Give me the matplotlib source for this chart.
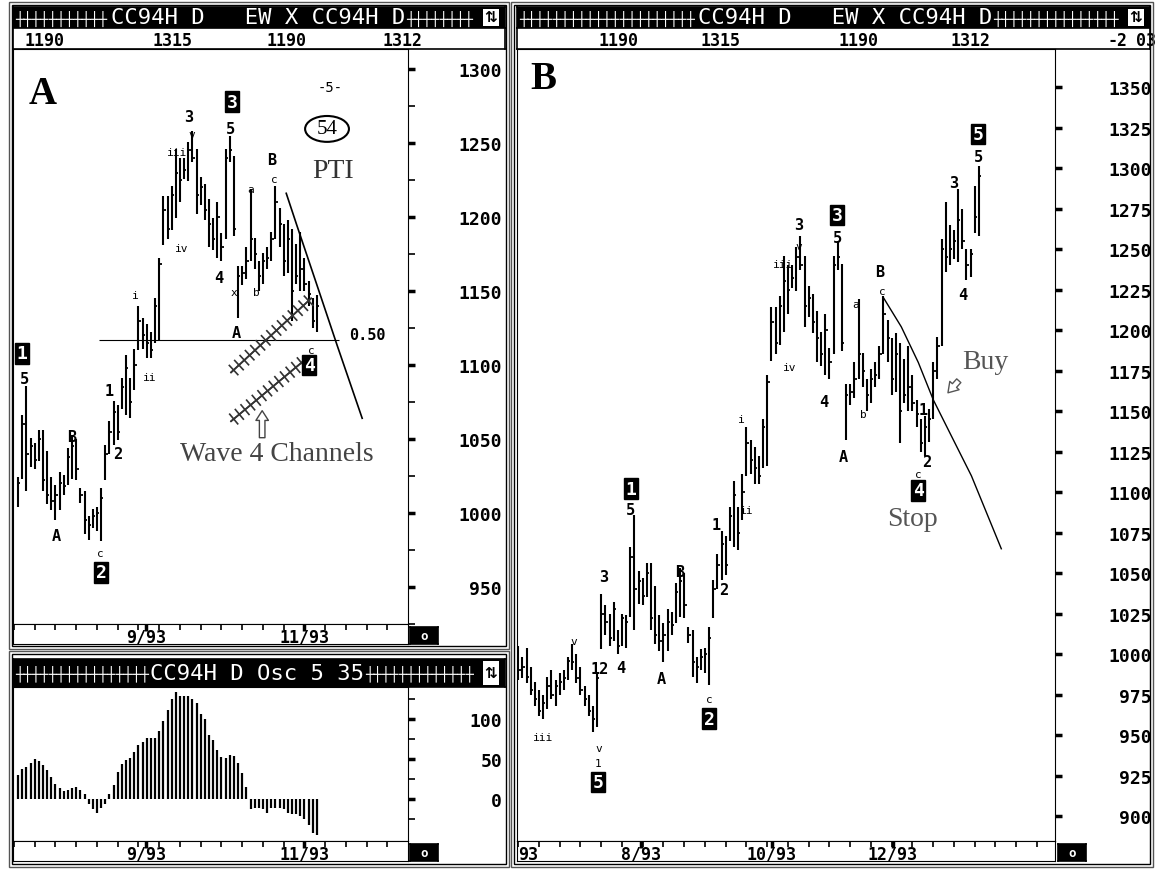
import numpy as np
import matplotlib.pyplot as plt
import matplotlib.patheffects as pe
from matplotlib.patches import Rectangle, Ellipse

# daily bars, index = trading day on panel B (panel A shows a_first..a_last)
high = [1005, 998, 1004, 992, 983, 978, 975, 986, 990, 984, 988, 990, 998, 1006, 1000, 992,
        980, 975, 968, 988, 1037, 1030, 1025, 1032, 1015, 1025, 1024, 1066, 1086, 1051, 1047, 1056,
        1056, 1042, 1024, 1019, 1028, 1026, 1044, 1053, 1050, 1017, 1015, 998, 1003, 1004, 1017, 1046,
        1062, 1076, 1073, 1091, 1107, 1091, 1111, 1140, 1132, 1128, 1122, 1145, 1172, 1214, 1214, 1221,
        1246, 1240, 1240, 1251, 1258, 1246, 1227, 1222, 1212, 1199, 1210, 1189, 1246, 1255, 1241, 1167,
        1167, 1180, 1219, 1186, 1170, 1176, 1180, 1190, 1221, 1206, 1195, 1198, 1192, 1182, 1190, 1172,
        1157, 1145, 1147, 1151, 1180, 1196, 1256, 1279, 1265, 1262, 1287, 1275, 1250, 1250, 1289, 1301]
low = [984, 985, 982, 975, 968, 962, 960, 966, 972, 968, 975, 978, 984, 990, 982, 975,
       968, 962, 952, 955, 1003, 1012, 1005, 1008, 1000, 1005, 1004, 1023, 1015, 1031, 1030, 1035,
       1015, 1006, 1002, 995, 1002, 1012, 1019, 1023, 1022, 1007, 986, 982, 990, 988, 981, 1022,
       1040, 1046, 1049, 1070, 1066, 1064, 1083, 1110, 1111, 1105, 1105, 1115, 1116, 1181, 1185, 1191,
       1199, 1210, 1226, 1224, 1237, 1202, 1208, 1198, 1180, 1178, 1172, 1170, 1185, 1237, 1187, 1132,
       1154, 1158, 1170, 1165, 1150, 1155, 1165, 1170, 1185, 1180, 1160, 1162, 1130, 1155, 1150, 1150,
       1140, 1125, 1122, 1131, 1145, 1170, 1190, 1236, 1240, 1244, 1242, 1250, 1231, 1233, 1260, 1258]
close = [990, 992, 986, 978, 972, 965, 970, 980, 975, 980, 983, 985, 996, 995, 985, 978,
         972, 965, 960, 985, 1025, 1020, 1010, 1028, 1005, 1022, 1020, 1060, 1040, 1045, 1036, 1050,
         1022, 1012, 1008, 1012, 1020, 1018, 1038, 1045, 1030, 1012, 995, 992, 998, 1000, 1010, 1040,
         1055, 1068, 1055, 1085, 1098, 1075, 1100, 1130, 1120, 1115, 1110, 1140, 1168, 1205, 1192, 1215,
         1230, 1225, 1232, 1245, 1240, 1215, 1220, 1205, 1195, 1185, 1200, 1180, 1240, 1245, 1192, 1160,
         1162, 1170, 1185, 1175, 1160, 1170, 1172, 1185, 1210, 1195, 1170, 1185, 1150, 1160, 1165, 1155,
         1148, 1130, 1140, 1145, 1175, 1190, 1250, 1245, 1250, 1255, 1268, 1255, 1240, 1247, 1270, 1295]
a_first, a_last = 26, 98

# Osc 5/35 for bars a_first..a_last
osc = [30, 38, 40, 45, 50, 48, 42, 36, 28, 19, 14, 10, 11, 14, 15, 11, 6, -6, -13, -17,
       -11, -6, 6, 17, 34, 44, 49, 51, 59, 68, 71, 76, 76, 76, 85, 97, 111, 125, 134, 129,
       129, 129, 125, 120, 106, 100, 80, 74, 61, 53, 51, 55, 54, 45, 32, 15, -13, -11, -11, -13,
       -17, -11, -11, -11, -13, -17, -19, -19, -21, -25, -32, -42, -45]

a_major = [950, 1000, 1050, 1100, 1150, 1200, 1250, 1300]
a_minor = [925, 975, 1025, 1075, 1125, 1175, 1225, 1275]
b_ticks = [900, 925, 950, 975, 1000, 1025, 1050, 1075, 1100, 1125, 1150, 1175, 1200,
           1225, 1250, 1275, 1300, 1325, 1350]
osc_major = [0, 50, 100]
osc_minor = [-25, 25, 75, 125]

a_dates = [56.8, 94.9]
a_date_labels = ['9/93', '11/93']
b_dates = [29.6, 61.1, 90.3]
b_date_labels = ['8/93', '10/93', '12/93']

a_header = ['1190', '1315', '1190', '1312']
a_header_x = [44, 172, 286, 403]
b_header = ['1190', '1315', '1190', '1312', '-2', '03']
b_header_x = [619, 721, 859, 971, 1118, 1146]

# wave labels: (bar, price, text, kind)
a_labels = [(27.0, 1108, '1', 'box'), (27.4, 1091, '5', 'num'), (39.0, 1052, 'B', 'num'),
            (35.2, 985, 'A', 'num'), (45.8, 973, 'c', 'small'), (46.0, 960, '2', 'box'),
            (48.0, 1083, '1', 'num'), (49.9, 1040, '2', 'num'), (54.2, 1147, 'i', 'small'),
            (57.8, 1092, 'ii', 'small'), (64.3, 1244, 'iii', 'small'), (67.2, 1268, '3', 'num'),
            (67.9, 1256, 'v', 'small'), (65.5, 1179, 'iv', 'small'), (77.6, 1278, '3', 'box'),
            (77.1, 1260, '5', 'num'), (74.4, 1159, '4', 'num'), (81.9, 1219, 'a', 'small'),
            (83.3, 1149, 'b', 'small'), (78.0, 1149, 'x', 'small'), (78.5, 1122, 'A', 'num'),
            (87.2, 1239, 'B', 'num'), (87.7, 1226, 'c', 'small'), (96.6, 1110, 'c', 'small'),
            (96.1, 1100, '4', 'box')]
b_labels = [(6.0, 949, 'iii', 'small'), (13.5, 1008, 'v', 'small'), (19.3, 942, 'v', 'small'),
            (19.3, 933, '1', 'small'), (19.3, 921, '5', 'box'), (20.7, 1048, '3', 'num'),
            (19.6, 991, '12', 'num'), (24.8, 992, '4', 'num'),
            (27.2, 1102, '1', 'box'), (27.0, 1089, '5', 'num'), (34.5, 985, 'A', 'num'),
            (38.8, 1051, 'B', 'num'), (46.0, 972, 'c', 'small'), (46.0, 960, '2', 'box'),
            (47.7, 1080, '1', 'num'), (49.4, 1040, '2', 'num'), (53.7, 1145, 'i', 'small'),
            (55.0, 1089, 'ii', 'small'), (63.9, 1241, 'iii', 'small'), (65.3, 1177, 'iv', 'small'),
            (67.5, 1265, '3', 'num'), (67.5, 1252, 'v', 'small'), (76.9, 1271, '3', 'box'),
            (76.9, 1257, '5', 'num'), (73.7, 1156, '4', 'num'), (78.3, 1122, 'A', 'num'),
            (81.4, 1216, 'a', 'small'), (83.1, 1148, 'b', 'small'), (87.0, 1236, 'B', 'num'),
            (87.7, 1224, 'c', 'small'), (97.6, 1151, '1', 'num'), (98.3, 1119, '2', 'num'),
            (96.4, 1111, 'c', 'small'), (96.4, 1101, '4', 'box'), (105.0, 1291, '3', 'num'),
            (107.2, 1222, '4', 'num'), (110.8, 1321, '5', 'box'), (110.8, 1307, '5', 'num')]

# hand drawn lines
a_trend_x = [90.6, 93.2, 98.0, 102.9, 108.9]
a_trend_y = [1216, 1194, 1154, 1113, 1064]
b_trend_x = [88.0, 92.3, 96.4, 100.0, 104.3, 109.2, 116.4]
b_trend_y = [1220, 1202, 1180, 1157, 1135, 1110, 1065]
chan_up_x, chan_up_y = [77.3, 96.6], [1095, 1145]
chan_lo_x, chan_lo_y = [77.3, 94.9], [1062, 1103]

MONO = 'DejaVu Sans Mono'
SERIF = 'Liberation Serif'
W, H = 1155, 870
fig = plt.figure(figsize=(W / 100, H / 100), dpi=100)


def px_axes(x0, y0, x1, y1):
    return fig.add_axes([x0 / W, 1 - y1 / H, (x1 - x0) / W, (y1 - y0) / H])


def blank(ax):
    ax.set_xticks([])
    ax.set_yticks([])
    for s in ax.spines.values():
        s.set_linewidth(1.2)


def title_bar(x0, x1, y0, y1, text, tx):
    ax = px_axes(x0, y0, x1, y1)
    blank(ax)
    ax.set_facecolor('black')
    ax.set_xlim(x0, x1)
    ax.set_ylim(y1, y0)
    ym = (y0 + y1) / 2
    t = ax.text(tx, ym, text, color='white', ha='center', va='center',
                family=MONO, fontsize=16)
    fig.canvas.draw()
    bb = t.get_window_extent()
    left_end = bb.x0 - x0
    right_start = bb.x1 - x0
    n_l = int((left_end - 2) / 8.4)
    n_r = int((x1 - x0 - 26 - right_start) / 8.4)
    ax.text(x0 + 2, ym, '┼' * n_l, color='white', ha='left', va='center', family=MONO, fontsize=10)
    ax.text(x0 + right_start + 1, ym, '┼' * n_r, color='white', ha='left',
            va='center', family=MONO, fontsize=10)
    ax.add_patch(Rectangle((x1 - 22, y0 + 2), 16, y1 - y0 - 4, fc='white', ec='none'))
    ax.text(x1 - 14, ym, '⇅', color='black', ha='center', va='center', fontsize=11,
            family='DejaVu Sans', fontweight='bold')


def header_row(x0, x1, y0, y1, labels, xs):
    ax = px_axes(x0, y0, x1, y1)
    blank(ax)
    ax.set_xlim(x0, x1)
    ax.set_ylim(y1, y0)
    for lab, x in zip(labels, xs):
        ax.text(x, (y0 + y1) / 2 + 1, lab, ha='center', va='center', family=MONO,
                fontweight='bold', fontsize=12)


def date_strip(x0, x1, y0, y1, xlim, pos, labels, box_x):
    ax = px_axes(x0, y0, x1, y1)
    ax.set_xlim(*xlim)
    ax.set_ylim(0, 1)
    ax.set_yticks([])
    ax.xaxis.set_ticks_position('top')
    ax.set_xticks(np.arange(np.ceil(xlim[0] / 5) * 5, xlim[1], 5))
    ax.tick_params(axis='x', direction='in', length=4, width=1.2, labeltop=False)
    ax.set_xticks(pos, minor=True)
    ax.tick_params(axis='x', which='minor', direction='in', length=5, width=2.5)
    for p, lab in zip(pos, labels):
        ax.text(p, 0.35, lab, ha='center', va='center', family=MONO, fontweight='bold', fontsize=12)
    bx = px_axes(box_x, y0 + 3, box_x + 28, y1)
    blank(bx)
    bx.set_facecolor('black')
    bx.text(0.5, 0.5, 'o', color='white', ha='center', va='center', family=MONO,
            fontweight='bold', fontsize=9, transform=bx.transAxes)
    return ax


def price_bars(ax, idx):
    hi = np.array(high)[idx]
    lo = np.array(low)[idx]
    cl = np.array(close)[idx]
    ax.vlines(idx, lo, hi, color='black', lw=1.5)
    ax.hlines(cl, idx, idx + 0.55, color='black', lw=1.3)


def right_axis(ax, major, minor, pad_px):
    ax.yaxis.tick_right()
    ax.set_yticks(major)
    ax.set_yticks(minor, minor=True)
    ax.tick_params(axis='y', which='major', direction='out', length=5, width=2.5,
                   pad=pad_px * 0.72, labelsize=13)
    ax.tick_params(axis='y', which='minor', direction='out', length=5, width=1.2)
    for lab in ax.get_yticklabels():
        lab.set_ha('right')
        lab.set_family(MONO)
        lab.set_fontweight('bold')
    ax.set_xticks([])


def wave_labels(ax, items):
    for x, y, t, kind in items:
        if kind == 'box':
            ax.text(x, y, t, ha='center', va='center', color='white', family=MONO,
                    fontweight='bold', fontsize=13,
                    bbox=dict(boxstyle='square,pad=0.08', fc='black', ec='black'))
        elif kind == 'num':
            ax.text(x, y, t, ha='center', va='center', family=MONO, fontweight='bold', fontsize=11)
        else:
            ax.text(x, y, t, ha='center', va='center', family=MONO, fontsize=8)


# ---------------- panel A ----------------
title_bar(13, 505, 8, 29, 'CC94H D   EW X CC94H D', 258)
header_row(13, 505, 29, 50, a_header, a_header_x)

a_xlim = (a_first - 1.24, a_first - 1.24 + 395 / 4.15)
axA = px_axes(13, 50, 408, 625)
a_idx = np.arange(a_first, a_last + 1)
price_bars(axA, a_idx)
axA.set_xlim(*a_xlim)
axA.set_ylim(926.4, 1313.5)
right_axis(axA, a_major, a_minor, 87)
wave_labels(axA, a_labels)
axA.plot(a_trend_x, a_trend_y, color='black', lw=1.2)
axA.hlines(1117, 45.5, 103.3, color='black', lw=0.8)
tick_fx = [pe.withTickedStroke(angle=90, spacing=5, length=0.9),
           pe.withTickedStroke(angle=-90, spacing=5, length=0.9)]
axA.plot(chan_up_x, chan_up_y, color='#333333', lw=1.2, path_effects=tick_fx)
axA.plot(chan_lo_x, chan_lo_y, color='#333333', lw=1.2, path_effects=tick_fx)
axA.annotate('', xy=(84.8, 1071), xytext=(84.8, 1049),
             arrowprops=dict(arrowstyle='simple,head_width=0.9,head_length=0.7,tail_width=0.4',
                             fc='white', ec='#444444', lw=1))
axA.text(0.04, 0.922, 'A', transform=axA.transAxes, family=SERIF, fontweight='bold',
         fontsize=28, va='center', ha='left')
axA.text(0.803, 0.934, '-5-', transform=axA.transAxes, family=MONO, fontsize=10, ha='center',
         va='center')
axA.add_patch(Ellipse((0.795, 0.861), 0.111, 0.045, transform=axA.transAxes,
                      fc='white', ec='black', lw=1.5))
axA.text(0.795, 0.861, '54', transform=axA.transAxes, family=SERIF, fontsize=15, ha='center',
         va='center')
axA.text(0.81, 0.788, 'PTI', transform=axA.transAxes, family=SERIF, fontsize=20, ha='center',
         va='center', color='#333333')
axA.text(0.896, 0.504, '0.50', transform=axA.transAxes, family=MONO, fontweight='bold',
         fontsize=11, ha='center', va='center')
axA.text(0.668, 0.296, 'Wave 4 Channels', transform=axA.transAxes, family=SERIF, fontsize=20,
         ha='center', va='center', color='#444444')
date_strip(13, 408, 625, 645, a_xlim, a_dates, a_date_labels, 410)

# ---------------- oscillator ----------------
title_bar(13, 505, 660, 688, 'CC94H D Osc 5 35', 257)
axO = px_axes(13, 688, 408, 842)
o_idx = np.arange(a_first, a_first + len(osc))
axO.vlines(o_idx, 0, osc, color='black', lw=1.6)
axO.set_xlim(*a_xlim)
axO.set_ylim(-52.5, 140)
right_axis(axO, osc_major, osc_minor, 87)
date_strip(13, 408, 842, 862, a_xlim, a_dates, a_date_labels, 410)

# ---------------- panel B ----------------
title_bar(517, 1150, 8, 29, 'CC94H D   EW X CC94H D', 845)
header_row(517, 1150, 29, 50, b_header, b_header_x)
b_xlim = (-0.3, -0.3 + 538 / 4.15)
axB = px_axes(517, 50, 1055, 842)
price_bars(axB, np.arange(len(high)))
axB.set_xlim(*b_xlim)
axB.set_ylim(884.6, 1373.5)
right_axis(axB, b_ticks, [], 90)
wave_labels(axB, b_labels)
axB.plot(b_trend_x, b_trend_y, color='black', lw=1.0)
axB.annotate('', xy=(103.1, 1160), xytext=(106.6, 1170),
             arrowprops=dict(arrowstyle='simple,head_width=0.9,head_length=0.7,tail_width=0.4',
                             fc='white', ec='#555555', lw=1))
axB.text(0.025, 0.963, 'B', transform=axB.transAxes, family=SERIF, fontweight='bold',
         fontsize=28, va='center', ha='left')
axB.text(0.87, 0.605, 'Buy', transform=axB.transAxes, family=SERIF, fontsize=20,
         ha='center', va='center', color='#555555')
axB.text(0.736, 0.407, 'Stop', transform=axB.transAxes, family=SERIF, fontsize=20,
         ha='center', va='center', color='#555555')
stripB = date_strip(517, 1055, 842, 862, b_xlim, b_dates, b_date_labels, 1058)
stripB.text(0.0, 0.35, '93', ha='left', va='center', family=MONO, fontweight='bold', fontsize=12)

# ---------------- frames ----------------
frame = fig.add_axes([0, 0, 1, 1], zorder=10)
frame.set_xlim(0, W)
frame.set_ylim(H, 0)
frame.axis('off')
frame.patch.set_alpha(0)
for x0, y0, x1, y1 in [(9, 3, 509, 650), (9, 652, 509, 868), (511, 3, 1153, 868)]:
    frame.add_patch(Rectangle((x0, y0), x1 - x0, y1 - y0, fill=False, ec='#555555', lw=1))
    frame.add_patch(Rectangle((x0 + 3, y0 + 3), x1 - x0 - 6, y1 - y0 - 6, fill=False,
                              ec='black', lw=1))

fig.savefig('out.png', dpi=100)
